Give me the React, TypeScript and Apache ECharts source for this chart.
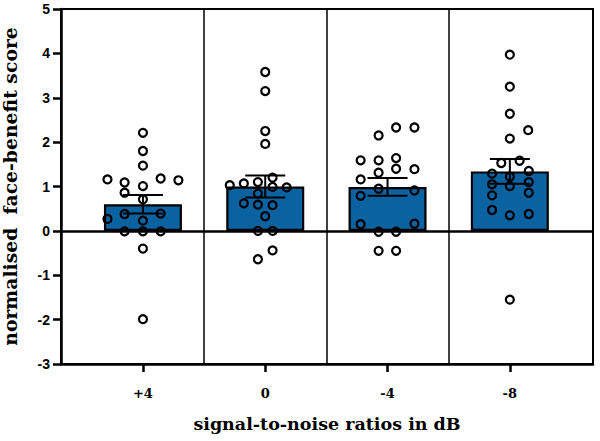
import React, { useEffect, useRef } from "react";
import * as echarts from "echarts";

const categories = ["+4", "0", "-4", "-8"];
const yTicks = [-3, -2, -1, 0, 1, 2, 3, 4, 5];
const meanScores = [0.6, 1.0, 0.99, 1.34];
const semScores = [0.21, 0.25, 0.2, 0.28];

const plus4Scores = [2.21, 1.8, 1.47, 1.16, 1.09, 1.01, 1.18, 1.14, 0.86, 0.71, 0.38, 0.39, 0.27, 0.23, -0.01, -0.01, -0.01, -0.4, -1.99];
const plus4Jitter = [0, 0, 0, -0.29, -0.15, 0, 0.145, 0.29, -0.15, 0, -0.15, 0.145, -0.29, 0, -0.15, 0, 0.145, 0, 0];

const zeroScores = [3.58, 3.15, 2.25, 1.96, 1.03, 1.07, 1.1, 1.2, 0.99, 0.98, 0.84, 0.62, 0.59, 0.58, 0.33, 0, 0, -0.44, -0.64];
const zeroJitter = [0, 0, 0, 0, -0.29, -0.175, -0.06, 0.06, 0.06, 0.175, -0.06, -0.175, -0.06, 0.06, 0, -0.06, 0.06, 0.06, -0.06];

const minus4Scores = [2.33, 2.33, 2.15, 1.59, 1.59, 1.64, 1.31, 1.4, 1.39, 1.16, 0.95, 0.79, 0.91, 0.15, 0.16, -0.02, -0.02, -0.45, -0.45];
const minus4Jitter = [0.07, 0.22, -0.073, -0.22, -0.073, 0.07, -0.073, 0.07, 0.22, -0.22, -0.073, -0.22, 0.22, -0.22, 0.22, -0.073, 0.07, -0.073, 0.07];

const minus8Scores = [3.97, 3.25, 2.64, 2.27, 2.08, 1.53, 1.58, 1.29, 1.22, 1.35, 1.05, 1.01, 1.1, 0.8, 0.86, 0.47, 0.35, 0.38, -1.55];
const minus8Jitter = [0, 0, 0, 0.15, 0, -0.07, 0.08, -0.145, 0, 0.155, -0.145, 0, 0.155, -0.145, 0.155, -0.145, 0, 0.155, 0];

const groupScores = [plus4Scores, zeroScores, minus4Scores, minus8Scores];
const groupJitter = [plus4Jitter, zeroJitter, minus4Jitter, minus8Jitter];

const xName = "signal-to-noise ratios in dB";
const yName = "normalised  face-benefit score";

export default function App() {
  const ref = useRef<HTMLDivElement>(null);
  useEffect(() => {
    if (!ref.current) return;
    const chart = echarts.init(ref.current, null, { renderer: "svg" });
    const points: number[][] = [];
    groupScores.forEach((arr, gi) => {
      arr.forEach((v, k) => points.push([gi + groupJitter[gi][k], v]));
    });
    const tickIdx = categories.map((_, i) => i);
    const option: any = {
      animation: false,
      backgroundColor: "#fff",
      grid: {
        left: 61,
        right: 7,
        top: 9,
        bottom: 77,
        show: true,
        borderColor: "#000",
        borderWidth: 2,
        containLabel: false,
        outerBoundsMode: "none",
      },
      xAxis: {
        type: "value",
        min: -0.67,
        max: 3.68,
        splitLine: { show: false },
        axisLine: { show: true, onZero: false, lineStyle: { color: "#000", width: 2.5 } },
        axisTick: { show: true, customValues: tickIdx, length: 8, lineStyle: { color: "#000", width: 2.5 } },
        axisLabel: {
          show: true,
          customValues: tickIdx,
          formatter: (v: number) => categories[Math.round(v)],
          margin: 23,
          color: "#000",
          fontFamily: "DejaVu Serif",
          fontWeight: "bold",
          fontSize: 13,
        },
        name: xName,
        nameLocation: "middle",
        nameGap: 51,
        nameTextStyle: { color: "#000", fontFamily: "DejaVu Serif", fontWeight: "bold", fontSize: 17.5 },
      },
      yAxis: {
        type: "value",
        min: yTicks[0],
        max: yTicks[yTicks.length - 1],
        interval: 1,
        splitLine: { show: false },
        axisLine: { show: true, onZero: false, lineStyle: { color: "#000", width: 2.5 } },
        axisTick: { show: true, length: 8, lineStyle: { color: "#000", width: 2.5 } },
        axisLabel: {
          margin: 11,
          color: "#000",
          fontFamily: "Liberation Sans",
          fontWeight: "bold",
          fontSize: 14,
        },
        name: yName,
        nameLocation: "middle",
        nameGap: 42,
        nameTextStyle: { color: "#000", fontFamily: "DejaVu Serif", fontWeight: "bold", fontSize: 18.8 },
      },
      series: [
        {
          type: "bar",
          data: meanScores.map((m, i) => [i, m]),
          barWidth: 78,
          itemStyle: { color: "#0a62a0", borderColor: "#000", borderWidth: 2.2 },
          markLine: {
            silent: true,
            symbol: ["none", "none"],
            label: { show: false },
            data: [
              { yAxis: 0, lineStyle: { color: "#000", width: 2.5, type: "solid" } },
              { xAxis: 0.5, lineStyle: { color: "#000", width: 1.5, type: "solid" } },
              { xAxis: 1.5, lineStyle: { color: "#000", width: 1.5, type: "solid" } },
              { xAxis: 2.5, lineStyle: { color: "#000", width: 1.5, type: "solid" } },
            ],
          },
        },
        {
          type: "custom",
          data: meanScores.map((m, i) => [i, m, semScores[i]]),
          renderItem: (params: any, api: any) => {
            const x = api.value(0);
            const m = api.value(1);
            const s = api.value(2);
            const top = api.coord([x, m + s]);
            const bot = api.coord([x, m - s]);
            const half = 20;
            const st = { stroke: "#000", lineWidth: 2 };
            return {
              type: "group",
              children: [
                { type: "line", shape: { x1: top[0], y1: top[1], x2: bot[0], y2: bot[1] }, style: st },
                { type: "line", shape: { x1: top[0] - half, y1: top[1], x2: top[0] + half, y2: top[1] }, style: st },
                { type: "line", shape: { x1: bot[0] - half, y1: bot[1], x2: bot[0] + half, y2: bot[1] }, style: st },
              ],
            };
          },
          z: 3,
        },
        {
          type: "scatter",
          data: points,
          symbol: "circle",
          symbolSize: 8,
          itemStyle: { color: "rgba(0,0,0,0)", borderColor: "#000", borderWidth: 2.2, opacity: 1 },
          z: 4,
        },
      ],
    };
    chart.setOption(option);
    return () => chart.dispose();
  }, []);
  return <div ref={ref} style={{ position: "fixed", left: 0, top: 0, width: 600, height: 441 }} />;
}
